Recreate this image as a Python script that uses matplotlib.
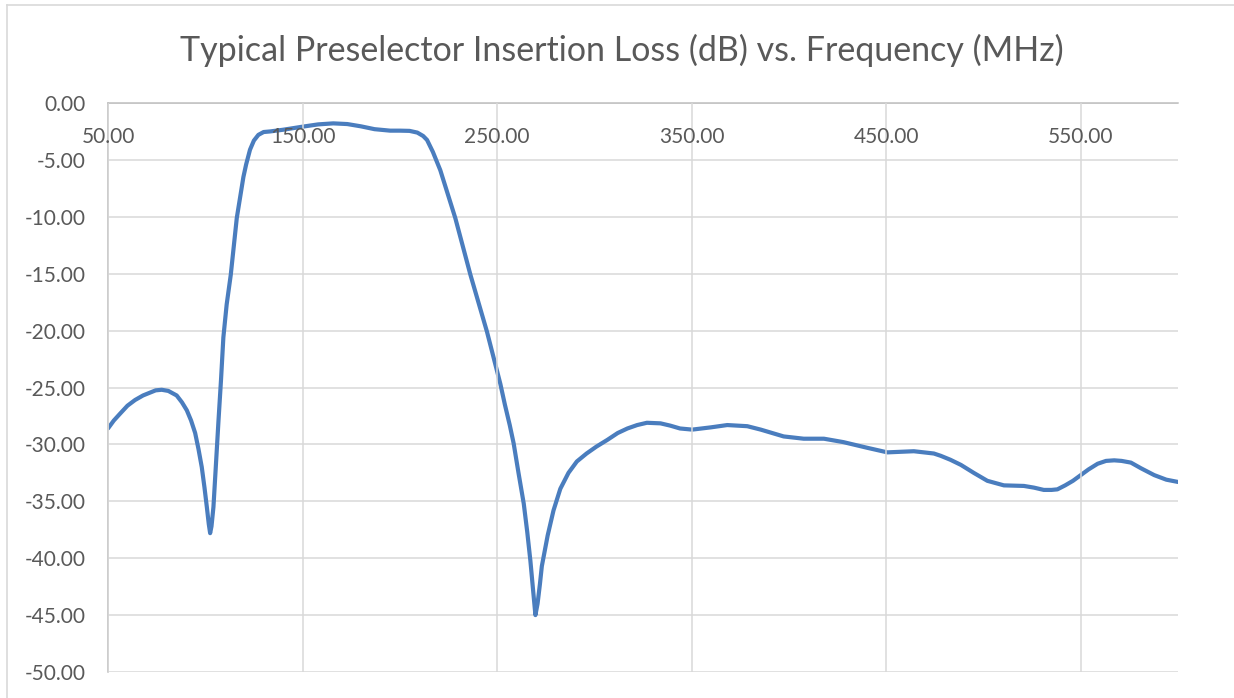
import matplotlib
matplotlib.use("Agg")
import matplotlib.pyplot as plt
from matplotlib.lines import Line2D

# frequency (MHz) and insertion loss (dB)
freq = [50, 53, 56.2, 60, 63.9, 68, 71.6, 74.5, 77.6, 81, 85.3, 88, 90.5,
        92.7, 94.8, 96.5, 98.2, 99.6, 100.8, 101.8, 102.5, 103.2, 104.2,
        105.4, 106.8, 108.1, 109.3, 111, 113.1, 116.2, 119.6, 121, 123,
        125, 127.3, 130, 133.3, 140, 150, 158, 165.8, 173, 180, 187, 195,
        200, 205, 209, 212, 214, 217, 220.8, 228.5, 236.3, 244.8, 251.7,
        254, 256.5, 258.5, 261, 263.7, 265.5, 267.1, 268.5, 269.7, 270.8,
        272, 273, 276, 279, 282.5, 286.7, 291, 296, 301, 306.7, 312, 317,
        322, 327, 334, 339, 344, 350.3, 360, 368.3, 378.6, 385.5, 397.3,
        407.6, 418, 428, 440.3, 450.6, 464.2, 474.5, 478, 483, 488.4, 495,
        502, 510.5, 520.8, 526, 531, 535, 538, 542, 546, 550, 554, 558.7,
        563, 567.2, 571, 575.8, 581, 587.8, 594, 600]
loss = [-28.6, -27.9, -27.3, -26.6, -26.1, -25.7, -25.45, -25.25, -25.2,
        -25.3, -25.7, -26.3, -27.0, -27.9, -29.0, -30.4, -32.0, -33.8,
        -35.5, -37.0, -37.8, -37.2, -35.5, -32.0, -27.9, -24.3, -20.6,
        -17.7, -15.1, -10.1, -6.5, -5.4, -4.1, -3.3, -2.8, -2.55, -2.5,
        -2.35, -2.08, -1.88, -1.79, -1.85, -2.05, -2.3, -2.43, -2.43,
        -2.45, -2.6, -2.9, -3.25, -4.3, -5.9, -10.1, -15.1, -20.1, -24.7,
        -26.5, -28.3, -29.9, -32.5, -35.2, -37.7, -40.2, -42.8, -45.0,
        -44.0, -42.3, -40.7, -38.0, -35.8, -33.9, -32.5, -31.5, -30.8,
        -30.2, -29.6, -29.0, -28.6, -28.3, -28.1, -28.15, -28.35, -28.6,
        -28.7, -28.5, -28.3, -28.4, -28.7, -29.3, -29.5, -29.5, -29.8,
        -30.3, -30.7, -30.6, -30.8, -31.0, -31.35, -31.8, -32.5, -33.2,
        -33.6, -33.65, -33.8, -34.0, -34.0, -33.95, -33.6, -33.2, -32.7,
        -32.2, -31.7, -31.45, -31.4, -31.45, -31.6, -32.1, -32.7, -33.1,
        -33.3]

x_ticks = [50, 150, 250, 350, 450, 550]
y_ticks = list(range(-50, 1, 5))
title = "Typical Preselector Insertion Loss (dB) vs. Frequency (MHz)"

plt.rcParams['font.family'] = ['Lato', 'DejaVu Sans']
txt = '#595959'
grid = '#D9D9D9'

fig = plt.figure(figsize=(12.34, 6.98), dpi=100)
ax = fig.add_axes([108/1234, 1 - 672/698, (1178-108)/1234, (672-103)/698])

ax.plot(freq, loss, color='#4A7DBE', lw=3.0, solid_joinstyle='round',
        solid_capstyle='round', zorder=2)

ax.set_xlim(50, 600)
ax.set_ylim(-50, 0)
ax.set_xticks(x_ticks)
ax.set_yticks(y_ticks)
ax.set_xticklabels([f"{v:.2f}" for v in x_ticks])
ax.set_yticklabels([f"{v:.2f}" for v in y_ticks])
ax.grid(True, color=grid, lw=1.1, zorder=0)
ax.set_axisbelow(True)

for s in ['right', 'top']:
    ax.spines[s].set_visible(False)
ax.spines['bottom'].set_position(('data', 0))
ax.spines['bottom'].set_color('#BFBFBF')
ax.spines['left'].set_color('#BFBFBF')
ax.spines['bottom'].set_linewidth(1.1)
ax.spines['left'].set_linewidth(1.1)
ax.spines['bottom'].set_zorder(1)
ax.xaxis.set_zorder(3)

ax.tick_params(axis='x', length=0, pad=17, labelsize=15, colors=txt)
ax.tick_params(axis='y', length=0, pad=16, labelsize=15, colors=txt)

fig.text(622/1234, 1 - 50/698, title, ha='center', va='center',
         fontsize=24.5, color=txt)

# chart frame
fig.add_artist(Line2D([7/1234, 7/1234], [0, 1 - 5/698], color='#D9D9D9', lw=1.2))
fig.add_artist(Line2D([7/1234, 1], [1 - 5/698, 1 - 5/698], color='#D9D9D9', lw=1.2))

fig.savefig('out.png', dpi=100)
